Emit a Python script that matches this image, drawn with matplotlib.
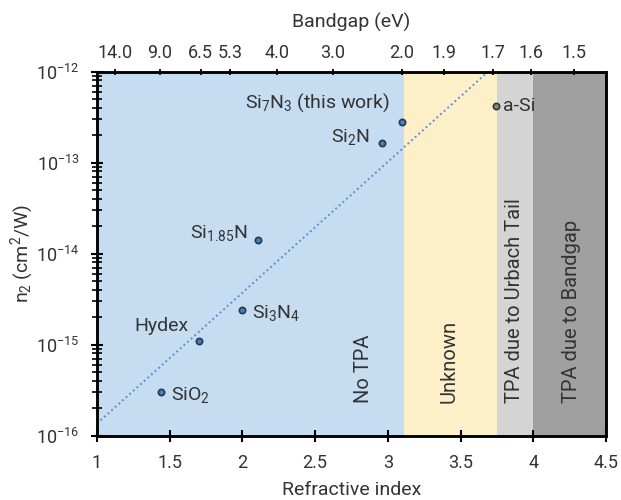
import matplotlib
matplotlib.use("Agg")
import matplotlib.pyplot as plt
from matplotlib.ticker import FixedLocator, NullFormatter

plt.rcParams['font.family'] = ['Roboto', 'DejaVu Sans']
plt.rcParams['mathtext.fontset'] = 'custom'
plt.rcParams['mathtext.rm'] = 'Roboto'
plt.rcParams['mathtext.it'] = 'Roboto:italic'
plt.rcParams['mathtext.bf'] = 'Roboto:bold'
plt.rcParams['mathtext.default'] = 'rm'

# ---- data ----
materials = ['SiO$_2$', 'Hydex', 'Si$_3$N$_4$', 'Si$_{1.85}$N', 'Si$_2$N', 'Si$_7$N$_3$ (this work)', 'a-Si']
ref_index = [1.44, 1.70, 2.00, 2.11, 2.96, 3.10, 3.74]
n2_values = [3.0e-16, 1.08e-15, 2.4e-15, 1.4e-14, 1.62e-13, 2.76e-13, 4.2e-13]

fit_x = [1.0, 3.69]
fit_y = [1.35e-16, 1.0e-12]

region_edges = [1.0, 3.11, 3.75, 4.0, 4.5]
region_names = ['No TPA', 'Unknown', 'TPA due to Urbach Tail', 'TPA due to Bandgap']

bandgap_labels = ['14.0', '9.0', '6.5', '5.3', '4.0', '3.0', '2.0', '1.9', '1.7', '1.6', '1.5']
bandgap_pos = [1.122, 1.431, 1.714, 1.918, 2.239, 2.620, 3.096, 3.387, 3.721, 3.987, 4.277]

x_ticks = [1, 1.5, 2, 2.5, 3, 3.5, 4, 4.5]
x_ticklabels = ['1', '1.5', '2', '2.5', '3', '3.5', '4', '4.5']
y_decades = [-16, -15, -14, -13, -12]

# ---- styles ----
region_colors = ['#c6dcf1', '#fdf0c9', '#d4d4d4', '#a0a0a0']
marker_face = ['#4a7fb5'] * 6 + ['#8a8a6a']
label_offsets = [(10, -3, 'left'), (-10, 15, 'right'), (10, -3, 'left'),
                 (-10, 7, 'right'), (-12, 6, 'right'), (-13, 20, 'right'), (7, 0, 'left')]
region_text_x = [2.83, 3.42, 3.87, 4.26]
txt_color = '#333333'

fig = plt.figure(figsize=(6.21, 5.0), dpi=100)
ax = fig.add_axes([0.156, 0.129, 0.82, 0.728])

ax.set_yscale('log')
ax.set_xlim(1, 4.5)
ax.set_ylim(1e-16, 1e-12)

for i in range(4):
    ax.axvspan(region_edges[i], region_edges[i + 1], color=region_colors[i], lw=0, zorder=0)
    ax.text(region_text_x[i], 2.25e-16, region_names[i], rotation=90,
            ha='center', va='bottom', fontsize=14.5, color=txt_color, zorder=3)

ax.plot(fit_x, fit_y, linestyle=(0, (1, 1.5)), color='#5b8fd6', lw=1.4, zorder=2)

for i in range(len(materials)):
    ax.plot(ref_index[i], n2_values[i], 'o', ms=4.5, mfc=marker_face[i],
            mec='#1f3a55', mew=1.2, zorder=4)
    dx, dy, ha = label_offsets[i]
    ax.annotate(materials[i], (ref_index[i], n2_values[i]), xytext=(dx, dy),
                textcoords='offset pixels', ha=ha, va='center', fontsize=14,
                color=txt_color, zorder=5)

ax.set_xticks(x_ticks)
ax.set_xticklabels(x_ticklabels)
major_y = [10.0 ** d for d in y_decades]
minor_y = [m * 10.0 ** d for d in y_decades[:-1] for m in range(2, 10)]
ax.yaxis.set_major_locator(FixedLocator(major_y))
ax.yaxis.set_minor_locator(FixedLocator(minor_y))
ax.set_yticklabels(['$10^{%d}$' % d for d in y_decades])
ax.yaxis.set_minor_formatter(NullFormatter())

ax.tick_params(axis='x', which='major', direction='inout', length=9, width=1.5,
               labelsize=13, colors='black', labelcolor=txt_color, pad=9)
ax.tick_params(axis='y', which='major', direction='inout', length=9, width=1.5,
               labelsize=13, labelcolor=txt_color, pad=8)
ax.tick_params(axis='y', which='minor', direction='inout', length=7, width=1.2)

for s in ax.spines.values():
    s.set_linewidth(1.8)

ax.set_xlabel('Refractive index', fontsize=14, color=txt_color, labelpad=6)
ax.set_ylabel('n$_2$ (cm$^2$/W)', fontsize=14, color=txt_color, labelpad=0)

ax2 = ax.twiny()
ax2.set_xlim(ax.get_xlim())
ax2.set_xticks(bandgap_pos)
ax2.set_xticklabels(bandgap_labels)
ax2.tick_params(axis='x', direction='inout', length=5, width=1.3, labelsize=13,
                labelcolor=txt_color, pad=4)
ax2.set_xlabel('Bandgap (eV)', fontsize=14, color=txt_color, labelpad=12)
for s in ax2.spines.values():
    s.set_linewidth(1.8)

fig.savefig('out.png', dpi=100)
